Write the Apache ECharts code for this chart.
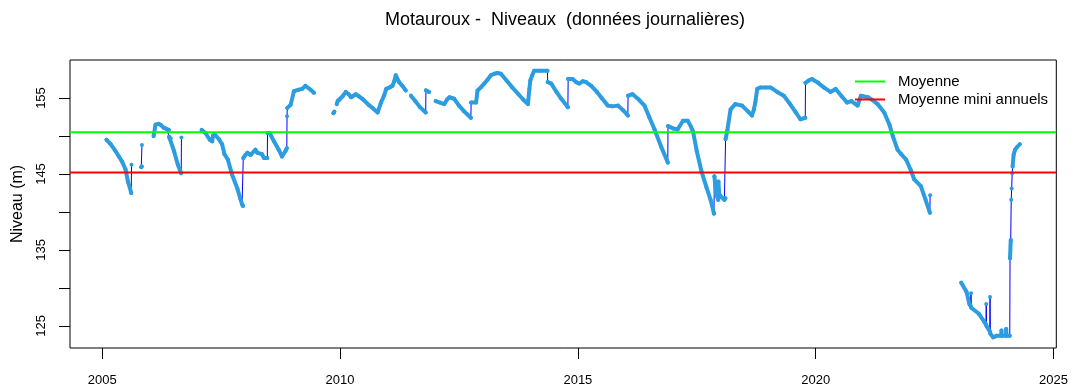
<!DOCTYPE html>
<html>
<head>
<meta charset="utf-8">
<script src="https://cdn.jsdelivr.net/npm/echarts@6/dist/echarts.min.js"></script>
<style>
  html, body { margin: 0; padding: 0; background: #ffffff; }
  #chart { width: 1071px; height: 390px; }
</style>
</head>
<body>
<div id="chart"></div>
<script>
// Piezometer "Motauroux": daily groundwater level (m), decimal years.
const chartTitle = 'Motauroux -  Niveaux  (données journalières)';
const yAxisName = 'Niveau (m)';
const xTicks = [2005, 2010, 2015, 2020, 2025];
const yTicks = [125, 130, 135, 140, 145, 150, 155];
const yLabels = [125, 135, 145, 155];
const meanLevel = 150.5;       // Moyenne
const meanAnnualMin = 145.2;   // Moyenne mini annuels

// null entries mark periods without measurements
const dates = [
  2005.09, 2005.18, 2005.28, 2005.35, 2005.42, 2005.49, 2005.54, 2005.58, 2005.61, 2005.615, null,
  2005.82, 2005.83, 2005.835, null,
  2006.08, 2006.12, 2006.19, 2006.24, 2006.29, 2006.36, 2006.40, 2006.405, 2006.44, 2006.51, 2006.59, 2006.66, 2006.665, null,
  2007.09, 2007.17, 2007.26, 2007.31, 2007.33, 2007.38, 2007.45, 2007.52, 2007.57, 2007.64, 2007.73, 2007.84, 2007.90, 2007.94, 2007.96, 2007.965,
  2008.01, 2008.05, 2008.12, 2008.22, 2008.26, 2008.36, 2008.40, 2008.47, 2008.475, 2008.52, 2008.61, 2008.71, 2008.78, 2008.85, 2008.88, 2008.885, 2008.89, 2008.96,
  2009.03, 2009.13, 2009.20, 2009.27, 2009.38, 2009.45, null,
  2009.86, 2009.88, null,
  2009.93, 2009.95, 2009.98, 2010.05, 2010.12, 2010.18, 2010.23, 2010.33, 2010.40, 2010.47, 2010.60, 2010.70, 2010.79,
  2010.86, 2010.93, 2010.97, 2011.04, 2011.10, 2011.14, 2011.17, 2011.24, 2011.31, 2011.38, null,
  2011.49, 2011.58, 2011.68, 2011.80, 2011.805, 2011.87, null,
  2012.01, 2012.10, 2012.19, 2012.25, 2012.30, 2012.40, 2012.50, 2012.60, 2012.70, 2012.75, 2012.755, 2012.86, 2012.89, 2012.96,
  2013.03, 2013.10, 2013.17, 2013.24, 2013.31, 2013.38, 2013.50, 2013.62, 2013.75, 2013.85, 2013.95, 2013.98,
  2014.00, 2014.04, 2014.08, 2014.20, 2014.36, 2014.365, 2014.44, 2014.55, 2014.65, 2014.79, 2014.795, 2014.89, 2014.96,
  2015.03, 2015.10, 2015.17, 2015.28, 2015.40, 2015.50, 2015.63, 2015.72, 2015.84, 2015.95,
  2016.05, 2016.055, 2016.15, 2016.28, 2016.40, 2016.50, 2016.61, 2016.75, 2016.89, 2016.895,
  2017.00, 2017.10, 2017.21, 2017.31, 2017.38, 2017.42, 2017.50, 2017.60, 2017.70, 2017.79, 2017.86, 2017.865, 2017.87, 2017.90, 2017.95, 2017.955, 2017.97, 2018.01,
  2018.08, 2018.10, 2018.105, 2018.14, 2018.21, 2018.31, 2018.45, 2018.58, 2018.66, 2018.70, 2018.73, 2018.77, 2018.84, 2018.95,
  2019.05, 2019.19, 2019.33, 2019.45, 2019.57, 2019.68, 2019.78, 2019.785, 2019.85, 2019.92,
  2020.05, 2020.17, 2020.31, 2020.42, 2020.55, 2020.66, 2020.75, 2020.88, 2020.95,
  2021.10, 2021.20, 2021.30, 2021.44, 2021.55, 2021.62, 2021.72, 2021.80, 2021.90,
  2022.00, 2022.07, 2022.21, 2022.31, 2022.40, 2022.405, null,
  2023.06, 2023.17, 2023.23, 2023.26, 2023.265, 2023.27, 2023.43, 2023.55, 2023.58, 2023.585, 2023.59, 2023.62, 2023.66, 2023.665, 2023.67,
  2023.73, 2023.80, 2023.90, 2023.905, 2023.91, 2024.00, 2024.005, 2024.01, 2024.08,
  2024.085, 2024.10, 2024.11, 2024.12, 2024.13, 2024.14, 2024.16, 2024.19, 2024.24, 2024.29
];
const levels = [
  149.5, 148.9, 148.0, 147.3, 146.6, 145.6, 144.0, 143.2, 142.5, 146.2, null,
  145.9, 146.0, 148.8, null,
  150.0, 151.5, 151.6, 151.4, 151.1, 150.9, 150.8, 149.9, 149.7, 148.0, 146.2, 145.1, 149.8, null,
  150.8, 150.4, 149.5, 149.3, 150.1, 150.1, 149.6, 148.9, 147.6, 146.9, 144.9, 143.1, 141.8, 141.0, 140.8, 147.1,
  147.5, 147.8, 147.5, 148.2, 147.8, 147.6, 147.1, 147.1, 150.4, 150.4, 149.3, 148.2, 147.3, 148.0, 148.4, 152.6, 153.7, 154.1,
  155.9, 156.1, 156.2, 156.6, 156.1, 155.7, null,
  153.0, 153.2, null,
  154.2, 154.6, 154.7, 155.2, 155.8, 155.5, 155.1, 155.5, 155.2, 154.9, 154.1, 153.6, 153.1,
  154.4, 155.4, 156.2, 156.4, 156.6, 157.2, 158.0, 157.1, 156.6, 156.0, null,
  155.3, 154.6, 153.8, 153.1, 156.0, 155.8, null,
  154.6, 154.4, 154.2, 154.8, 155.1, 154.9, 154.0, 153.3, 152.7, 152.4, 154.4, 154.4, 156.0, 156.4,
  156.9, 157.4, 158.0, 158.2, 158.3, 158.2, 157.3, 156.4, 155.5, 154.8, 154.2, 156.2,
  157.3, 158.0, 158.6, 158.6, 158.6, 157.1, 156.9, 155.8, 154.9, 153.8, 157.5, 157.5, 157.1,
  156.9, 157.2, 157.1, 156.6, 155.8, 155.0, 154.0, 153.9, 154.0, 153.4,
  152.7, 155.3, 155.5, 154.8, 154.0, 152.5, 150.9, 148.6, 146.5, 151.3,
  151.0, 150.9, 152.0, 152.0, 151.2, 150.6, 148.0, 145.3, 143.3, 141.6, 139.8, 139.8, 144.7, 142.5, 141.6, 144.0, 142.4, 142.0,
  141.6, 141.8, 149.6, 150.7, 153.5, 154.2, 154.0, 153.2, 152.7, 153.5, 154.4, 156.2, 156.4, 156.4,
  156.4, 155.8, 155.3, 154.3, 153.2, 152.2, 152.4, 157.0, 157.3, 157.5,
  157.0, 156.4, 155.8, 156.2, 155.2, 154.4, 154.6, 154.0, 155.3,
  155.1, 154.7, 154.2, 153.1, 151.5, 150.0, 148.2, 147.6, 146.9,
  145.5, 144.3, 143.4, 141.6, 139.9, 142.2, null,
  130.7, 129.5, 127.9, 127.6, 129.3, 127.4, 126.6, 125.5, 125.2, 127.9, 125.0, 124.8, 124.3, 128.8, 124.0,
  123.5, 123.7, 123.7, 124.4, 123.7, 123.7, 124.6, 123.7, 123.7,
  133.9, 136.3, 141.6, 143.1, 145.1, 146.0, 147.5, 148.2, 148.6, 148.9
];

// Axis extents padded by 4% of the data range on each side
function paddedRange(values) {
  const v = values.filter(x => x !== null);
  const lo = Math.min(...v), hi = Math.max(...v), pad = 0.04 * (hi - lo);
  return [lo - pad, hi + pad];
}
const [xMin, xMax] = paddedRange(dates);
const [yMin, yMax] = paddedRange(levels);

// Continuous trace, broken only where data is missing
const trace = dates.map((d, i) => levels[i] === null ? ['-', '-'] : [d, levels[i]]);

// Dotted band of daily values: it follows the slow changes but leaves
// the sudden one-day jumps to the thin trace underneath
const band = [];
for (let i = 0; i < dates.length; i++) {
  if (levels[i] === null) { band.push(['-', '-']); continue; }
  if (i > 0 && levels[i - 1] !== null &&
      dates[i] - dates[i - 1] < 0.012 && Math.abs(levels[i] - levels[i - 1]) > 0.9) {
    band.push(['-', '-']);
  }
  band.push([dates[i], levels[i]]);
}

const FONT = '"Liberation Sans", Arial, sans-serif';
const chart = echarts.init(document.getElementById('chart'), null, { renderer: 'canvas' });

chart.setOption({
  animation: false,
  backgroundColor: '#ffffff',
  title: {
    text: chartTitle,
    left: 565,
    textAlign: 'center',
    top: 11,
    padding: 0,
    textStyle: { fontFamily: FONT, fontSize: 18, fontWeight: 'normal', color: '#000' }
  },
  legend: {
    data: ['Moyenne', 'Moyenne mini annuels'],
    orient: 'vertical',
    left: 855,
    top: 74,
    padding: 0,
    itemWidth: 30,
    itemHeight: 2,
    itemGap: 3,
    icon: 'rect',
    selectedMode: false,
    textStyle: { fontFamily: FONT, fontSize: 15, color: '#000', padding: [0, 0, 0, 8] }
  },
  grid: {
    left: 70, right: 11, top: 60, bottom: 42,
    show: true, borderColor: '#000', borderWidth: 1, backgroundColor: 'transparent'
  },
  xAxis: {
    type: 'value',
    min: xMin, max: xMax,
    axisLine: { show: false },
    splitLine: { show: false },
    axisTick: { show: true, customValues: xTicks, length: 11, inside: false, lineStyle: { color: '#000' } },
    axisLabel: {
      customValues: xTicks, margin: 26,
      fontFamily: FONT, fontSize: 13, color: '#000',
      formatter: v => String(Math.round(v))
    }
  },
  yAxis: {
    type: 'value',
    min: yMin, max: yMax,
    name: yAxisName,
    nameLocation: 'middle',
    nameRotate: 90,
    nameGap: 44,
    nameTextStyle: { fontFamily: FONT, fontSize: 16, color: '#000' },
    axisLine: { show: false },
    splitLine: { show: false },
    axisTick: { show: true, customValues: yTicks, length: 11, inside: false, lineStyle: { color: '#000' } },
    axisLabel: {
      customValues: yLabels, rotate: 90, margin: 22,
      fontFamily: FONT, fontSize: 13, color: '#000',
      formatter: v => String(Math.round(v))
    }
  },
  series: [
    {
      name: 'trace',
      type: 'line',
      data: trace,
      showSymbol: false,
      connectNulls: false,
      lineStyle: { color: '#0000ff', width: 1 },
      z: 2,
      silent: true
    },
    {
      name: 'niveaux',
      type: 'line',
      data: band,
      connectNulls: false,
      symbol: 'circle',
      symbolSize: 4,
      showSymbol: true,
      itemStyle: { color: '#2b9de0' },
      lineStyle: { color: '#2b9de0', width: 4, cap: 'round', join: 'round' },
      z: 3,
      silent: true
    },
    {
      name: 'Moyenne',
      type: 'line',
      data: [[xMin, meanLevel], [xMax, meanLevel]],
      symbol: 'none',
      itemStyle: { color: '#00ff00' },
      lineStyle: { color: '#00ff00', width: 2 },
      z: 5,
      silent: true
    },
    {
      name: 'Moyenne mini annuels',
      type: 'line',
      data: [[xMin, meanAnnualMin], [xMax, meanAnnualMin]],
      symbol: 'none',
      itemStyle: { color: '#ff0000' },
      lineStyle: { color: '#ff0000', width: 2 },
      z: 5,
      silent: true
    }
  ]
});
</script>
</body>
</html>
